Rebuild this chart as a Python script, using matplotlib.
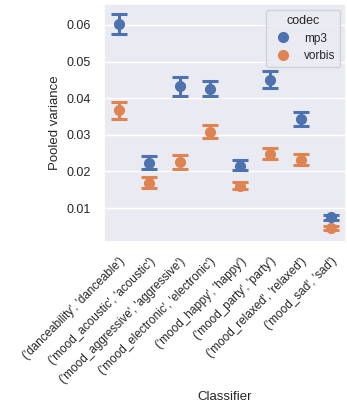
import matplotlib
matplotlib.use("Agg")
import matplotlib.pyplot as plt
import seaborn as sns
import numpy as np

sns.set_theme(style="darkgrid", palette="deep")
plt.rcParams['font.family'] = ['Liberation Sans', 'DejaVu Sans']

classifiers = ["('danceability', 'danceable')", "('mood_acoustic', 'acoustic')",
               "('mood_aggressive', 'aggressive')", "('mood_electronic', 'electronic')",
               "('mood_happy', 'happy')", "('mood_party', 'party')",
               "('mood_relaxed', 'relaxed')", "('mood_sad', 'sad')"]

# pooled variance per classifier with CI bounds
mp3_mean = [0.0603, 0.0222, 0.0432, 0.0425, 0.0216, 0.0450, 0.0342, 0.0075]
mp3_low = [0.0575, 0.0206, 0.0405, 0.0405, 0.0203, 0.0428, 0.0325, 0.0068]
mp3_high = [0.0630, 0.0241, 0.0457, 0.0446, 0.0230, 0.0473, 0.0362, 0.0082]

vorbis_mean = [0.0367, 0.0169, 0.0226, 0.0307, 0.0161, 0.0248, 0.0232, 0.0045]
vorbis_low = [0.0342, 0.0156, 0.0206, 0.0291, 0.0151, 0.0234, 0.0218, 0.0039]
vorbis_high = [0.0391, 0.0184, 0.0246, 0.0327, 0.0171, 0.0265, 0.0247, 0.0051]

codecs = ["mp3", "vorbis"]
colors = sns.color_palette("deep")[:2]

fig = plt.figure(figsize=(3.47, 4.05), dpi=100)
ax = fig.add_axes([0.30, 0.402, 0.697, 0.588])

x = np.arange(len(classifiers))
series = [(mp3_mean, mp3_low, mp3_high), (vorbis_mean, vorbis_low, vorbis_high)]
for (mean, low, high), name, c in zip(series, codecs, colors):
    mean = np.array(mean)
    err = [mean - np.array(low), np.array(high) - mean]
    ax.errorbar(x, mean, yerr=err, fmt='o', color=c, ms=7, elinewidth=2.2,
                capsize=5.5, capthick=2.2, label=name)

ax.set_xlim(-0.5, len(classifiers) - 0.5)
ax.set_ylim(0.0007, 0.0657)
ax.set_yticks([0.01, 0.02, 0.03, 0.04, 0.05, 0.06])
ax.set_xticks(x)
ax.set_xticklabels(classifiers, rotation=45, ha='right', rotation_mode='anchor', fontsize=8.5)
ax.tick_params(axis='y', labelsize=9)
ax.xaxis.grid(False)
ax.set_xlabel("Classifier", fontsize=9.5)
ax.set_ylabel("Pooled variance", fontsize=9.5)

handles, labels = ax.get_legend_handles_labels()
from matplotlib.lines import Line2D
h = [Line2D([], [], marker='o', ls='', color=c, ms=7) for c in colors]
ax.legend(h, codecs, title="codec", loc='upper right', fontsize=8.5, title_fontsize=9)

fig.savefig("out.png", dpi=100)
